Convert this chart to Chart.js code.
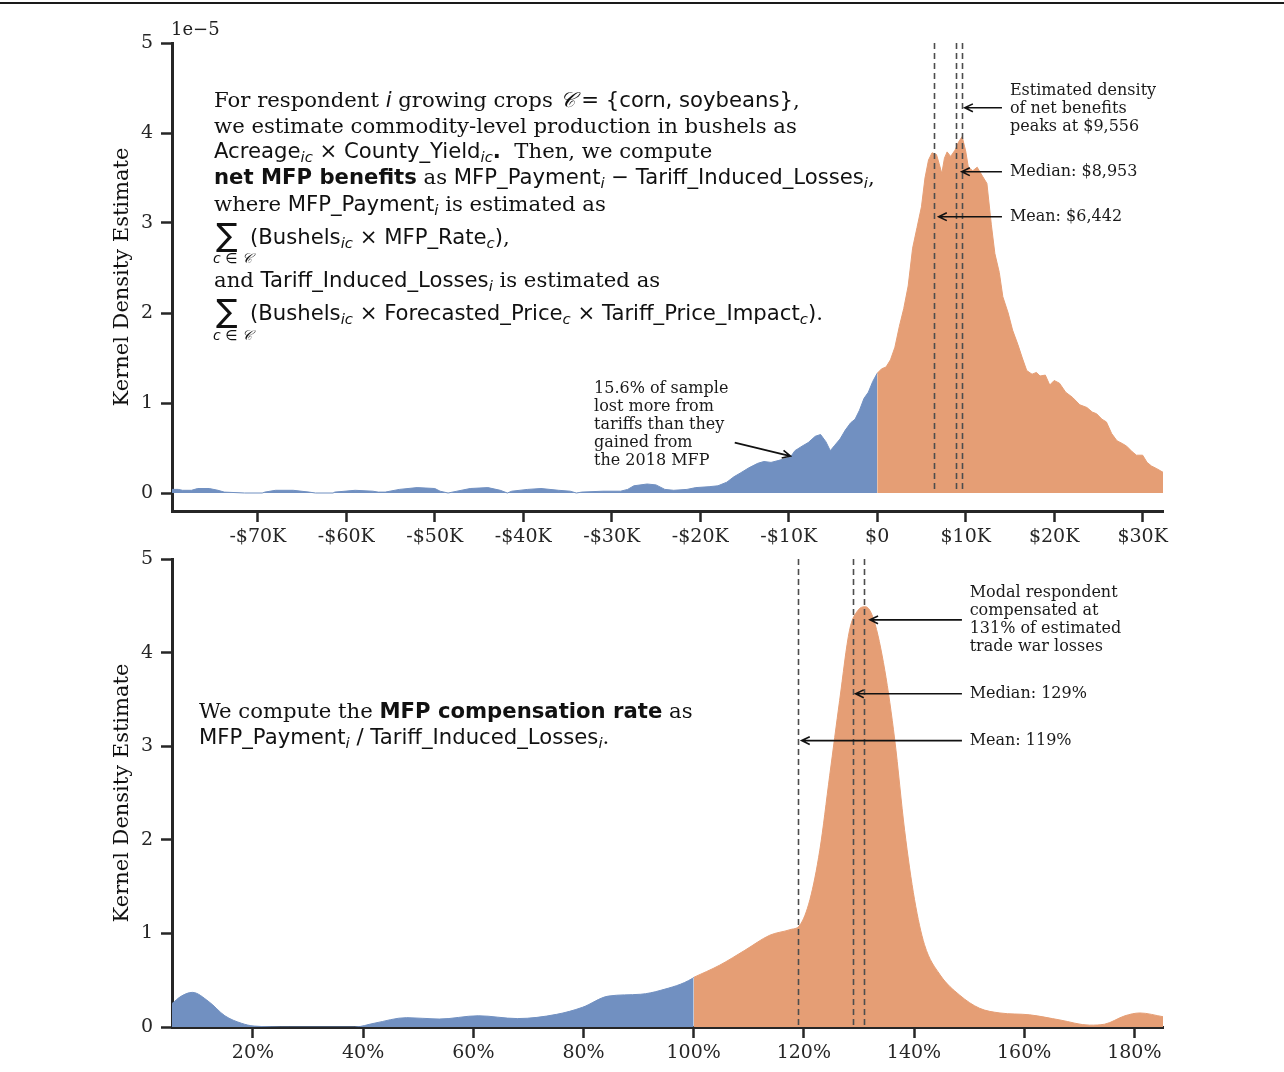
<!DOCTYPE html>
<html>
<head>
<meta charset="utf-8">
<script src="https://cdn.jsdelivr.net/npm/chart.js@4.4.0/dist/chart.umd.min.js"></script>
<style>
body { margin: 0; width: 1284px; height: 1072px; position: relative; background: #fff; overflow: hidden; }
.rule { position: absolute; left: 0; top: 2px; width: 1284px; height: 2px; background: #1a1a1a; }
#netChart { position: absolute; left: 0; top: 0; }
#rateChart { position: absolute; left: 0; top: 536px; }
.note { position: absolute; font-family: 'DejaVu Serif', serif; font-size: 21.2px; line-height: 26px; white-space: nowrap; color: #111; }
.m { font-family: 'DejaVu Sans', sans-serif; }
.m i, sub { font-style: italic; }
sub { font-size: 0.7em; vertical-align: -0.3em; line-height: 0; }
.sum { position: absolute; font-family: 'DejaVu Sans', sans-serif; font-size: 32px; line-height: 32px; color: #111; }
.under { position: absolute; font-family: 'DejaVu Sans', sans-serif; font-style: italic; font-size: 14px; line-height: 14px; color: #111; }
.offset { position: absolute; left: 171px; top: 18px; font-family: 'DejaVu Serif', serif; font-size: 18px; color: #222; }
</style>
</head>
<body>
<div class="rule"></div>
<canvas id="netChart" width="1284" height="550"></canvas>
<canvas id="rateChart" width="1284" height="536"></canvas>

<div class="offset">1e−5</div>

<div class="note" style="left:214px; top:87px">For respondent <span class="m"><i>i</i></span> growing crops <span class="m"><i>𝒞</i> = {corn, soybeans}</span>,</div>
<div class="note" style="left:214px; top:113px">we estimate commodity-level production in bushels as</div>
<div class="note" style="left:214px; top:138px"><span class="m">Acreage<sub>ic</sub> × County_Yield<sub>ic</sub></span><b class="m">.</b>&nbsp; Then, we compute</div>
<div class="note" style="left:214px; top:164px"><b class="m">net MFP benefits</b> as <span class="m">MFP_Payment<sub>i</sub> − Tariff_Induced_Losses<sub>i</sub></span>,</div>
<div class="note" style="left:214px; top:191px">where <span class="m">MFP_Payment<sub>i</sub></span> is estimated as</div>
<div class="sum" style="left:216px; top:219px">∑</div>
<div class="under" style="left:213px; top:251px">c ∈ 𝒞</div>
<div class="note" style="left:250px; top:224px"><span class="m">(Bushels<sub>ic</sub> × MFP_Rate<sub>c</sub>)</span>,</div>
<div class="note" style="left:214px; top:267px">and <span class="m">Tariff_Induced_Losses<sub>i</sub></span> is estimated as</div>
<div class="sum" style="left:216px; top:295px">∑</div>
<div class="under" style="left:213px; top:328px">c ∈ 𝒞</div>
<div class="note" style="left:250px; top:300px"><span class="m">(Bushels<sub>ic</sub> × Forecasted_Price<sub>c</sub> × Tariff_Price_Impact<sub>c</sub>)</span>.</div>

<div class="note" style="left:199px; top:698px">We compute the <b class="m">MFP compensation rate</b> as</div>
<div class="note" style="left:199px; top:724px"><span class="m">MFP_Payment<sub>i</sub> / Tariff_Induced_Losses<sub>i</sub></span>.</div>

<script>
// top panel: net MFP benefits in $ thousands, density in units of 1e-5
const lossX = [-79.7, -79.0, -78.5, -77.5, -76.8, -75.5, -74.5, -73.8, -71.5, -69.5, -69.2, -68, -66, -64.2, -63.5,
  -61.5, -61.3, -59, -57, -56.4, -55.6, -54, -52, -50, -49.4, -48.5, -47.5, -46, -44, -42.6, -41.8, -41.3, -39.5,
  -38, -36, -34.7, -34, -33.4, -31, -29, -28.2, -27.5, -26, -25, -24, -23, -21.5, -20.5, -19, -18, -17, -16.2,
  -15.5, -14.5, -13.5, -12.8, -12, -11.2, -10.5, -9.8, -9.3, -8.5, -7.8, -7, -6.4, -5.8, -5.3, -4.8, -4.2, -3.6,
  -3.0, -2.5, -2.0, -1.5, -1.0, -0.5, 0]
const lossY = [0.04, 0.04, 0.03, 0.03, 0.05, 0.05, 0.03, 0.01, 0, 0, 0.01, 0.03, 0.03, 0.01, 0,
  0, 0.01, 0.03, 0.02, 0.01, 0.01, 0.04, 0.06, 0.05, 0.02, 0, 0.02, 0.05, 0.06, 0.03, 0, 0.02, 0.04,
  0.05, 0.03, 0.02, 0, 0.01, 0.02, 0.02, 0.04, 0.08, 0.10, 0.09, 0.04, 0.03, 0.04, 0.06, 0.07, 0.08, 0.12, 0.18,
  0.22, 0.28, 0.33, 0.35, 0.34, 0.36, 0.38, 0.40, 0.47, 0.52, 0.56, 0.63, 0.65, 0.57, 0.47, 0.53, 0.60, 0.70,
  0.78, 0.82, 0.92, 1.05, 1.12, 1.24, 1.33]
const gainX = [0, 0.5, 1.0, 1.5, 2.0, 2.5, 3.0, 3.5, 4.0, 4.5, 5.0, 5.4, 5.8, 6.2, 6.7, 7.0, 7.3, 7.6, 7.9, 8.3,
  8.8, 9.2, 9.6, 10.0, 10.3, 10.8, 11.3, 11.9, 12.4, 12.9, 13.3, 13.8, 14.2, 14.8, 15.3, 15.9, 16.4, 16.9, 17.5,
  18.0, 18.4, 19.0, 19.5, 20.0, 20.6, 21.3, 22.1, 22.9, 23.7, 24.3, 24.8, 25.4, 25.9, 26.5, 27.1, 27.7, 28.2,
  28.8, 29.3, 30.0, 30.5, 31.0, 31.6, 32.3]
const gainY = [1.33, 1.38, 1.40, 1.48, 1.62, 1.85, 2.05, 2.30, 2.72, 2.95, 3.18, 3.50, 3.70, 3.78, 3.76, 3.66, 3.55, 3.72, 3.79, 3.74,
  3.81, 3.90, 3.96, 3.80, 3.62, 3.58, 3.62, 3.52, 3.44, 2.98, 2.66, 2.45, 2.18, 2.00, 1.81, 1.65, 1.50, 1.36, 1.32,
  1.34, 1.30, 1.31, 1.20, 1.25, 1.22, 1.12, 1.06, 0.98, 0.95, 0.90, 0.88, 0.82, 0.79, 0.66, 0.58, 0.55, 0.52,
  0.46, 0.42, 0.42, 0.34, 0.30, 0.27, 0.23]
const netTicks = [-70, -60, -50, -40, -30, -20, -10, 0, 10, 20, 30]
const netLines = [6.442, 8.953, 9.556]   // mean, median, mode

// bottom panel: compensation rate in %, density
const underX = [5.3, 7, 9, 12, 14.9, 17.9, 20.2, 26.7, 38.5, 42, 47.9, 53.8, 60.9, 68, 75.1, 79.8, 84.5, 90.4, 93.9, 99.8, 100]
const underY = [0.25, 0.33, 0.37, 0.27, 0.12, 0.04, 0.01, 0, 0, 0.04, 0.10, 0.085, 0.12, 0.09, 0.135, 0.21, 0.33, 0.35, 0.39, 0.52, 0.53]
const overX = [100, 104.7, 109.3, 113.8, 117.5, 119.3, 121.1, 122.9, 124.7, 126.5, 128.3, 129.8, 131.2, 132.7, 134.7,
  136.5, 138.3, 140.1, 141.9, 144.7, 148.3, 151.9, 155.6, 161, 166.5, 171.9, 174.6, 178.3, 181, 185.2]
const overY = [0.53, 0.66, 0.82, 0.98, 1.04, 1.09, 1.36, 1.89, 2.69, 3.49, 4.24, 4.45, 4.49, 4.35, 3.81,
  3.07, 2.10, 1.36, 0.88, 0.56, 0.34, 0.20, 0.15, 0.13, 0.075, 0.02, 0.03, 0.12, 0.15, 0.11]
const rateTicks = [20, 40, 60, 80, 100, 120, 140, 160, 180]
const rateLines = [119, 129, 131]

const densityTicks = [0, 1, 2, 3, 4, 5]

const BLUE = '#7190c1'
const ORANGE = '#e59e75'
const INK = '#262626'

const toPoints = (xs, ys) => xs.map((x, i) => ({ x: x, y: ys[i] }))

function drawArrow(ctx, x0, y0, x1, y1) {
  const a = Math.atan2(y1 - y0, x1 - x0)
  ctx.beginPath()
  ctx.moveTo(x0, y0)
  ctx.lineTo(x1, y1)
  ctx.moveTo(x1 - 9 * Math.cos(a - 0.45), y1 - 9 * Math.sin(a - 0.45))
  ctx.lineTo(x1, y1)
  ctx.lineTo(x1 - 9 * Math.cos(a + 0.45), y1 - 9 * Math.sin(a + 0.45))
  ctx.stroke()
}

const guidePlugin = {
  id: 'guides',
  afterDatasetsDraw(chart, args, opts) {
    const { ctx, chartArea } = chart
    const x = chart.scales.x, y = chart.scales.y
    ctx.save()
    ctx.strokeStyle = '#4d4d4d'
    ctx.lineWidth = 1.6
    ctx.setLineDash([6, 4])
    opts.lines.forEach(v => {
      const px = Math.round(x.getPixelForValue(v)) + 0.5
      ctx.beginPath()
      ctx.moveTo(px, chartArea.top)
      ctx.lineTo(px, y.getPixelForValue(0))
      ctx.stroke()
    })
    ctx.setLineDash([])
    ctx.fillStyle = '#1a1a1a'
    ctx.strokeStyle = '#111'
    ctx.lineWidth = 1.6
    ctx.font = '16px "DejaVu Serif", serif'
    ctx.textBaseline = 'middle'
    opts.notes.forEach(n => {
      const tx = x.getPixelForValue(n.at[0]), ty = y.getPixelForValue(n.at[1])
      n.text.forEach((t, i) => ctx.fillText(t, tx, ty + i * 18))
      drawArrow(ctx, x.getPixelForValue(n.from[0]), y.getPixelForValue(n.from[1]),
        x.getPixelForValue(n.to[0]), y.getPixelForValue(n.to[1]))
    })
    ctx.restore()
  }
}

function makeChart(id, cfg) {
  const tickFont = { family: "'DejaVu Serif', serif", size: 19 }
  return new Chart(document.getElementById(id), {
    type: 'line',
    data: {
      datasets: [
        { data: toPoints(cfg.lowX, cfg.lowY), backgroundColor: BLUE, borderColor: BLUE, borderWidth: 1,
          fill: { value: 0 }, pointRadius: 0, cubicInterpolationMode: cfg.smooth ? 'monotone' : 'default', tension: 0 },
        { data: toPoints(cfg.highX, cfg.highY), backgroundColor: ORANGE, borderColor: ORANGE, borderWidth: 1,
          fill: { value: 0 }, pointRadius: 0, cubicInterpolationMode: cfg.smooth ? 'monotone' : 'default', tension: 0 }
      ]
    },
    options: {
      responsive: false,
      animation: false,
      events: [],
      layout: { padding: { left: 106, right: 121, top: cfg.top, bottom: 0 } },
      plugins: {
        legend: { display: false },
        tooltip: { enabled: false },
        guides: { lines: cfg.lines, notes: cfg.notes }
      },
      scales: {
        x: {
          type: 'linear', min: cfg.xMin, max: cfg.xMax,
          afterBuildTicks: s => { s.ticks = cfg.xTicks.map(v => ({ value: v })) },
          afterFit: s => { s.height = cfg.xHeight },
          ticks: { callback: cfg.fmt, font: tickFont, color: INK, padding: 4, maxRotation: 0, autoSkip: false },
          grid: { drawOnChartArea: false, tickLength: 11, tickWidth: 2.5, tickColor: INK },
          border: { color: INK, width: 3 }
        },
        y: {
          min: cfg.yMin, max: 5,
          afterBuildTicks: s => { s.ticks = densityTicks.map(v => ({ value: v })) },
          afterFit: s => { s.width = 66 },
          ticks: { font: tickFont, color: INK, padding: 8 },
          grid: { drawOnChartArea: false, tickLength: 11, tickWidth: 2.5, tickColor: INK },
          border: { color: INK, width: 3 },
          title: { display: true, text: 'Kernel Density Estimate', color: '#111',
            font: { family: "'DejaVu Serif', serif", size: 21 } }
        }
      }
    },
    plugins: [guidePlugin]
  })
}

makeChart('netChart', {
  lowX: lossX, lowY: lossY, highX: gainX, highY: gainY,
  xMin: -79.7, xMax: 32.3, yMin: -0.2, top: 43, xHeight: 39,
  xTicks: netTicks, lines: netLines, smooth: false,
  fmt: v => v === 0 ? '$0' : (v < 0 ? '-$' + (-v) + 'K' : '$' + v + 'K'),
  notes: [
    { text: ['Estimated density', 'of net benefits', 'peaks at $9,556'], at: [15.0, 4.47], from: [14.1, 4.28], to: [9.9, 4.28] },
    { text: ['Median: $8,953'], at: [15.0, 3.57], from: [14.1, 3.57], to: [9.55, 3.57] },
    { text: ['Mean: $6,442'], at: [15.0, 3.07], from: [14.1, 3.07], to: [6.95, 3.07] },
    { text: ['15.6% of sample', 'lost more from', 'tariffs than they', 'gained from', 'the 2018 MFP'],
      at: [-32.0, 1.16], from: [-16.1, 0.56], to: [-9.8, 0.41] }
  ]
})

makeChart('rateChart', {
  lowX: underX, lowY: underY, highX: overX, highY: overY,
  xMin: 5.3, xMax: 185.2, yMin: 0, top: 23, xHeight: 45,
  xTicks: rateTicks, lines: rateLines, smooth: true,
  fmt: v => v + '%',
  notes: [
    { text: ['Modal respondent', 'compensated at', '131% of estimated', 'trade war losses'], at: [150.1, 4.64], from: [148.7, 4.35], to: [132.0, 4.35] },
    { text: ['Median: 129%'], at: [150.1, 3.56], from: [148.7, 3.56], to: [129.4, 3.56] },
    { text: ['Mean: 119%'], at: [150.1, 3.06], from: [148.7, 3.06], to: [119.6, 3.06] }
  ]
})
</script>
</body>
</html>
